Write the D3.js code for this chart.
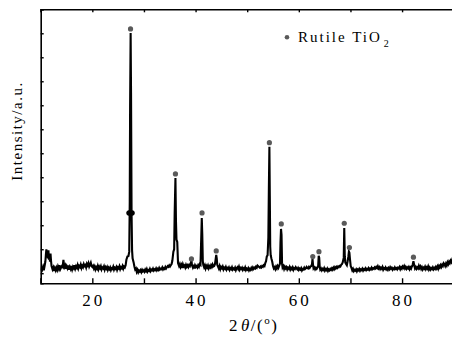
<!DOCTYPE html>
<html><head><meta charset="utf-8">
<script src="https://cdn.jsdelivr.net/npm/d3@7"></script>
<style>
body{margin:0;background:#fff;}
svg{display:block;font-family:"Liberation Serif","Times New Roman",serif;}
</style></head>
<body><svg id="c" width="452" height="341"></svg>
<script>
// XRD pattern: [2theta (deg), intensity (a.u.)]
const scan10to28 = [[10.0,110],[10.15,230],[10.3,150],[10.45,260],[10.6,120],[10.75,300],[10.9,480],[11.0,760],[11.1,1000],[11.2,700],[11.3,860],[11.4,620],[11.5,950],[11.6,560],[11.7,760],[11.8,480],[11.9,820],[12.0,520],[12.1,300],[12.3,160],[12.45,240],[12.6,90],[12.75,210],[12.9,120],[13.05,230],[13.2,140],[13.35,280],[13.5,190],[13.65,330],[13.8,170],[13.95,240],[14.1,300],[14.25,260],[14.4,560],[14.5,380],[14.6,260],[14.75,330],[14.9,180],[15.05,290],[15.2,210],[15.35,320],[15.5,150],[15.65,260],[15.8,180],[15.95,300],[16.1,160],[16.25,270],[16.4,210],[16.55,330],[16.7,190],[16.85,290],[17.0,230],[17.15,340],[17.3,200],[17.45,300],[17.6,260],[17.75,360],[17.9,220],[18.05,310],[18.2,250],[18.35,380],[18.5,300],[18.65,340],[18.8,240],[18.95,390],[19.1,330],[19.25,420],[19.4,280],[19.55,360],[19.7,440],[19.85,300],[20.0,260],[20.15,310],[20.3,200],[20.45,280],[20.6,160],[20.75,250],[20.9,190],[21.05,300],[21.2,170],[21.35,270],[21.5,210],[21.65,290],[21.8,160],[21.95,240],[22.1,200],[22.25,280],[22.4,150],[22.55,250],[22.7,190],[22.85,260],[23.0,140],[23.15,230],[23.3,170],[23.45,240],[23.6,130],[23.75,210],[23.9,180],[24.05,270],[24.2,150],[24.35,230],[24.5,190],[24.65,260],[24.8,140],[24.95,240],[25.1,200],[25.25,290],[25.4,170],[25.55,250],[25.7,210],[25.85,300],[26.0,190],[26.15,280],[26.3,240],[26.45,330],[26.6,560],[26.8,700],[27.0,720],[27.15,900],[27.25,3000],[27.32,7000],[27.42,10013],[27.5,7500],[27.6,2500],[27.7,950],[27.8,620],[28.0,450]];
const scan28to50 = [[28.15,280],[28.3,160],[28.45,200],[28.6,60],[28.75,140],[28.9,40],[29.05,110],[29.2,70],[29.35,130],[29.5,50],[29.65,140],[29.8,80],[29.95,120],[30.1,60],[30.25,150],[30.4,90],[30.55,170],[30.7,70],[30.85,130],[31.0,100],[31.15,180],[31.3,90],[31.45,150],[31.6,120],[31.75,190],[31.9,110],[32.05,160],[32.2,130],[32.35,200],[32.5,120],[32.65,180],[32.8,140],[32.95,220],[33.1,150],[33.25,190],[33.4,170],[33.55,240],[33.7,160],[33.85,210],[34.0,180],[34.15,260],[34.3,200],[34.45,250],[34.6,300],[34.75,270],[34.9,330],[35.05,280],[35.2,330],[35.35,380],[35.5,520],[35.7,900],[35.85,1000],[35.95,2500],[36.1,3971],[36.2,2200],[36.3,1400],[36.45,1300],[36.6,420],[36.8,300],[36.95,380],[37.1,260],[37.25,340],[37.4,220],[37.55,370],[37.7,280],[37.85,320],[38.0,240],[38.15,350],[38.3,270],[38.45,330],[38.6,260],[38.75,340],[38.9,300],[39.05,400],[39.2,560],[39.3,330],[39.45,250],[39.6,360],[39.75,200],[39.9,330],[40.05,260],[40.2,300],[40.35,240],[40.5,330],[40.65,270],[40.8,380],[40.95,350],[41.1,1500],[41.2,2304],[41.3,1600],[41.4,500],[41.5,340],[41.65,250],[41.8,330],[41.95,200],[42.1,300],[42.25,240],[42.4,320],[42.55,210],[42.7,290],[42.85,240],[43.0,330],[43.15,260],[43.3,360],[43.45,280],[43.6,300],[43.75,380],[43.85,520],[44.0,763],[44.1,620],[44.2,350],[44.35,280],[44.5,200],[44.65,300],[44.8,170],[44.95,260],[45.1,210],[45.25,280],[45.4,160],[45.55,230],[45.7,190],[45.85,260],[46.0,150],[46.15,220],[46.3,180],[46.45,240],[46.6,140],[46.75,210],[46.9,170],[47.05,250],[47.2,150],[47.35,200],[47.5,160],[47.65,230],[47.8,130],[47.95,210],[48.1,250],[48.25,180],[48.4,270],[48.55,150],[48.7,220],[48.85,180],[49.0,230],[49.15,140],[49.3,200],[49.45,160],[49.6,240],[49.75,130],[49.9,190],[50.05,150]];
const scan50to70 = [[50.2,210],[50.35,120],[50.5,180],[50.65,140],[50.8,220],[50.95,160],[51.1,240],[51.25,180],[51.4,230],[51.55,200],[51.7,270],[51.85,230],[52.0,320],[52.15,290],[52.3,260],[52.45,230],[52.6,280],[52.75,240],[52.9,300],[53.05,270],[53.2,330],[53.35,300],[53.5,420],[53.65,500],[53.8,700],[53.95,750],[54.1,1500],[54.2,3600],[54.3,5275],[54.38,3200],[54.46,1100],[54.55,750],[54.7,600],[54.85,480],[55.0,300],[55.15,200],[55.3,250],[55.45,170],[55.6,270],[55.75,200],[55.9,300],[56.05,230],[56.2,320],[56.35,400],[56.45,1300],[56.55,1846],[56.65,1600],[56.75,400],[56.85,240],[57.0,300],[57.15,180],[57.3,270],[57.45,200],[57.6,250],[57.75,160],[57.9,230],[58.05,190],[58.2,260],[58.35,150],[58.5,220],[58.65,170],[58.8,240],[58.95,140],[59.1,210],[59.25,180],[59.4,250],[59.55,200],[59.7,160],[59.85,220],[60.0,140],[60.15,190],[60.3,150],[60.45,210],[60.6,120],[60.75,180],[60.9,160],[61.05,230],[61.2,170],[61.35,200],[61.5,260],[61.65,220],[61.8,200],[61.95,260],[62.1,220],[62.25,280],[62.4,300],[62.55,380],[62.65,596],[62.75,350],[62.85,200],[63.0,240],[63.15,160],[63.3,220],[63.45,180],[63.6,240],[63.75,300],[63.85,721],[63.95,650],[64.05,250],[64.15,150],[64.3,200],[64.45,120],[64.6,180],[64.75,140],[64.9,210],[65.05,110],[65.2,170],[65.35,130],[65.5,190],[65.65,100],[65.8,160],[65.95,120],[66.1,180],[66.25,140],[66.4,200],[66.55,150],[66.7,230],[66.85,170],[67.0,250],[67.15,200],[67.3,260],[67.45,220],[67.6,280],[67.75,250],[67.9,300],[68.05,280],[68.2,350],[68.35,380],[68.5,450],[68.7,650],[68.8,1888],[68.9,700],[69.0,450],[69.15,380],[69.3,330],[69.45,500],[69.6,700],[69.7,900],[69.8,850],[69.9,600],[70.05,300]];
const scan70to90 = [[70.2,220],[70.35,120],[70.5,180],[70.65,90],[70.8,140],[70.95,110],[71.1,160],[71.25,80],[71.4,150],[71.55,120],[71.7,180],[71.85,100],[72.0,160],[72.15,130],[72.3,190],[72.45,110],[72.6,170],[72.75,140],[72.9,200],[73.05,130],[73.2,180],[73.35,150],[73.5,210],[73.65,140],[73.8,190],[73.95,160],[74.1,230],[74.25,170],[74.4,210],[74.55,180],[74.7,240],[74.85,200],[75.0,260],[75.15,220],[75.3,290],[75.45,200],[75.6,250],[75.75,170],[75.9,230],[76.05,190],[76.2,260],[76.35,150],[76.5,210],[76.65,180],[76.8,240],[76.95,160],[77.1,200],[77.25,140],[77.4,220],[77.55,170],[77.7,250],[77.85,190],[78.0,230],[78.15,150],[78.3,200],[78.45,170],[78.6,240],[78.75,180],[78.9,210],[79.05,160],[79.2,230],[79.35,200],[79.5,260],[79.65,170],[79.8,240],[79.95,190],[80.1,280],[80.25,230],[80.4,300],[80.55,200],[80.7,260],[80.85,180],[81.0,240],[81.15,200],[81.3,260],[81.45,170],[81.6,240],[81.75,190],[81.9,280],[82.05,350],[82.2,500],[82.35,330],[82.5,200],[82.65,260],[82.8,180],[82.95,240],[83.1,200],[83.25,310],[83.4,220],[83.55,280],[83.7,180],[83.85,250],[84.0,160],[84.15,230],[84.3,190],[84.45,270],[84.6,170],[84.75,240],[84.9,190],[85.05,280],[85.2,160],[85.35,230],[85.5,150],[85.65,210],[85.8,170],[85.95,240],[86.1,160],[86.25,220],[86.4,180],[86.55,260],[86.7,200],[86.85,280],[87.0,190],[87.15,300],[87.3,240],[87.45,330],[87.6,260],[87.75,350],[87.9,300],[88.05,420],[88.2,380],[88.35,300],[88.5,400],[88.65,330],[88.8,450],[88.95,380],[89.1,480],[89.25,420],[89.4,520],[89.55,460],[89.7,560],[89.85,500],[90.0,540]];

// Rutile TiO2 reflection markers (2theta, intensity of dot)
const markerTheta = [27.4,36.1,39.2,41.25,44.0,54.3,56.6,62.7,63.9,68.8,69.8,82.2];
const markerValue = [10180,4138,596,2513,929,5442,2054,692,900,2083,1067,667];
// extra black marker on the main peak
const bigMarkerTheta = [27.4];
const bigMarkerValue = [2513];

const xTicks = [10,20,30,40,50,60,70,80,90];
const xTickLabels = [20,40,60,80];
const yTicks = [0,1000,2000,3000,4000,5000,6000,7000,8000,9000,10000,11000];
const legendLabel = "Rutile TiO";
const legendSub = "2";
const xTitleParts = ["2", "θ", "/(", "o", ")"];
const yTitle = "Intensity/a.u.";

const svg = d3.select("#c");
const L = 40.7, R = 453.7, T = 9.3, B = 283.3;
const x = d3.scaleLinear().domain([10,90]).range([L,R]);
const y = d3.scaleLinear().domain([-420,11000]).range([B,T]);

svg.append("defs").append("clipPath").attr("id","clip")
  .append("rect").attr("x",L).attr("y",T).attr("width",R-L).attr("height",B-T);

const pts = [].concat(scan10to28, scan28to50, scan50to70, scan70to90);
const line = d3.line().x(d=>x(d[0])).y(d=>y(d[1]));
svg.append("path").datum(pts).attr("d",line).attr("clip-path","url(#clip)")
  .attr("fill","none").attr("stroke","#000").attr("stroke-width",2.1).attr("stroke-linejoin","miter");

// markers
svg.selectAll("circle.m").data(markerTheta).enter().append("circle")
  .attr("class","m").attr("cx",d=>x(d)).attr("cy",(d,i)=>y(markerValue[i]))
  .attr("r",2.6).attr("fill","#5a5a5a");
svg.selectAll("ellipse.b").data(bigMarkerTheta).enter().append("ellipse")
  .attr("class","b").attr("cx",d=>x(d)).attr("cy",(d,i)=>y(bigMarkerValue[i]))
  .attr("rx",4.3).attr("ry",3).attr("fill","#000");

// axes
const gB = svg.append("g").attr("transform",`translate(0,${B})`)
  .call(d3.axisBottom(x).tickValues(xTicks).tickSize(-5).tickPadding(0).tickFormat(""));
const gT = svg.append("g").attr("transform",`translate(0,${T})`)
  .call(d3.axisTop(x).tickValues(xTicks).tickSize(-3).tickFormat(""));
const gL = svg.append("g").attr("transform",`translate(${L},0)`)
  .call(d3.axisLeft(y).tickValues(yTicks).tickSize(-3).tickFormat(""));
[gB,gT,gL].forEach(g=>{
  g.select(".domain").attr("stroke","#000").attr("stroke-width",1.6);
  g.selectAll(".tick line").attr("stroke","#000").attr("stroke-width",1.4);
});

// tick labels
svg.selectAll("text.xl").data(xTickLabels).enter().append("text")
  .attr("class","xl").attr("x",d=>x(d)+1.5).attr("y",306)
  .attr("text-anchor","middle").attr("font-size",17).attr("letter-spacing",3)
  .text(d=>d);

// x title
const xt = svg.append("text").attr("x",229).attr("y",331).attr("font-size",17).attr("letter-spacing",1.5);
xt.append("tspan").text(xTitleParts[0]);
xt.append("tspan").attr("font-style","italic").attr("dx",2).text(xTitleParts[1]);
xt.append("tspan").text(xTitleParts[2]);
xt.append("tspan").attr("font-size",11).attr("dy",-7).text(xTitleParts[3]);
xt.append("tspan").attr("dy",7).text(xTitleParts[4]);

// y title
svg.append("text").attr("transform","translate(22,131) rotate(-90)")
  .attr("text-anchor","middle").attr("font-size",15).attr("letter-spacing",1.5)
  .text(yTitle);

// legend
svg.append("circle").attr("cx",287).attr("cy",37.3).attr("r",2.3).attr("fill","#5a5a5a");
const lg = svg.append("text").attr("x",298).attr("y",42).attr("font-size",15).attr("letter-spacing",2);
lg.append("tspan").text(legendLabel);
lg.append("tspan").attr("font-size",10).attr("dy",5).attr("dx",2).text(legendSub);
</script></body></html>
